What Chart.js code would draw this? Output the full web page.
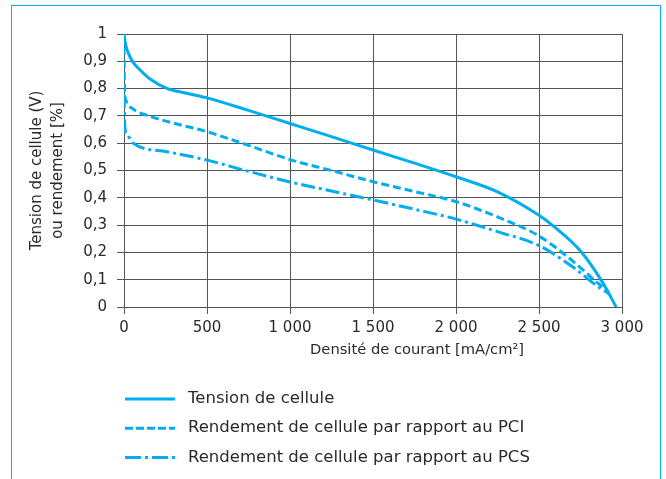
<!DOCTYPE html>
<html>
<head>
<meta charset="utf-8">
<script src="https://cdn.jsdelivr.net/npm/chart.js@4.4.1/dist/chart.umd.min.js"></script>
<style>
  body { margin: 0; background: #fff; }
  .frame { position: absolute; left: 11px; top: 5px; width: 648px; height: 520px; border: 1.5px solid #00aeef; }
  #chart { position: absolute; left: 0; top: 0; }
</style>
</head>
<body>
<div class="frame"></div>
<canvas id="chart" width="666" height="479"></canvas>
<script>
// courbes
const tensionX = [0, 10, 26, 56, 97, 157, 258, 370, 500, 750, 1000, 1250, 1500, 1750, 2000, 2250, 2500, 2600, 2750, 2880, 2965];
const tensionY = [1.0, 0.96, 0.93, 0.895, 0.868, 0.835, 0.801, 0.784, 0.766, 0.72, 0.672, 0.624, 0.575, 0.527, 0.477, 0.422, 0.336, 0.29, 0.205, 0.093, 0.0];

const pciX = [0, 3, 10, 56, 150, 258, 500, 750, 1000, 1250, 1500, 1750, 2000, 2250, 2500, 2700, 2850, 2920];
const pciY = [0.95, 0.8, 0.76, 0.725, 0.70, 0.68, 0.642, 0.592, 0.54, 0.50, 0.459, 0.423, 0.386, 0.33, 0.26, 0.17, 0.09, 0.055];

const pcsX = [0, 5, 16, 56, 258, 500, 750, 1000, 1250, 1500, 1750, 2000, 2250, 2500, 2700, 2870, 2920];
const pcsY = [0.78, 0.66, 0.636, 0.60, 0.569, 0.538, 0.497, 0.458, 0.425, 0.392, 0.358, 0.322, 0.276, 0.225, 0.148, 0.068, 0.05];

const seriesLabels = [
    'Tension de cellule',
    'Rendement de cellule par rapport au PCI',
    'Rendement de cellule par rapport au PCS'
];

const xTickLabels = ['0', '500', '1 000', '1 500', '2 000', '2 500', '3 000'];
const yTickLabels = ['0', '0,1', '0,2', '0,3', '0,4', '0,5', '0,6', '0,7', '0,8', '0,9', '1'];

const BLUE = '#00aeef';
const TXT = '#2a2a2a';
const GRID = '#555555';
const FONT = '"DejaVu Sans", sans-serif';

function pts(xs, ys) {
    return xs.map((x, i) => ({x: x, y: ys[i]}));
}

// legende verticale sous le graphe
const legendBelow = {
    id: 'legendBelow',
    afterDraw(chart) {
        const ctx = chart.ctx;
        ctx.save();
        chart.data.datasets.forEach((ds, i) => {
            const y = 399 + i * 29.2;
            ctx.strokeStyle = ds.borderColor;
            ctx.lineWidth = 3;
            ctx.setLineDash(ds.legendDash);
            ctx.beginPath();
            ctx.moveTo(125, y);
            ctx.lineTo(175, y);
            ctx.stroke();
            ctx.setLineDash([]);
            ctx.fillStyle = TXT;
            ctx.font = '16.5px ' + FONT;
            ctx.textBaseline = 'middle';
            ctx.fillText(ds.label, 188, y);
        });
        ctx.restore();
    }
};

const config = {
    type: 'line',
    data: {
        datasets: [
            {
                label: seriesLabels[0],
                data: pts(tensionX, tensionY),
                borderColor: BLUE,
                borderWidth: 3,
                legendDash: []
            },
            {
                label: seriesLabels[1],
                data: pts(pciX, pciY),
                borderColor: BLUE,
                borderWidth: 3,
                borderDash: [8, 4],
                legendDash: [8, 3]
            },
            {
                label: seriesLabels[2],
                data: pts(pcsX, pcsY),
                borderColor: BLUE,
                borderWidth: 3,
                borderDash: [14, 4, 3, 4],
                legendDash: [16, 4, 3, 4]
            }
        ]
    },
    options: {
        responsive: false,
        animation: false,
        layout: { padding: { top: 34, right: 44, bottom: 112, left: 0 } },
        elements: {
            point: { radius: 0 },
            line: { cubicInterpolationMode: 'monotone', borderCapStyle: 'butt' }
        },
        plugins: {
            legend: { display: false },
            tooltip: { enabled: false }
        },
        scales: {
            x: {
                type: 'linear',
                min: 0,
                max: 3000,
                afterFit: (s) => { s.height = 60; },
                border: { color: GRID, width: 1 },
                grid: { color: GRID, lineWidth: 1, tickLength: 7, tickColor: GRID },
                ticks: {
                    stepSize: 500,
                    padding: 5,
                    color: TXT,
                    font: { family: FONT, size: 15 },
                    callback: (v, i) => xTickLabels[i]
                },
                title: {
                    display: true,
                    text: '\u2003\u2003\u2003\u2003\u2003\u2003Densité de courant [mA/cm²]',
                    color: TXT,
                    font: { family: FONT, size: 14.7 },
                    padding: { top: 0, bottom: 8 }
                }
            },
            y: {
                min: 0,
                max: 1,
                afterFit: (s) => { s.width = 124; },
                border: { color: GRID, width: 1 },
                grid: { color: GRID, lineWidth: 1, tickLength: 7, tickColor: GRID },
                ticks: {
                    stepSize: 0.1,
                    padding: 10,
                    color: TXT,
                    font: { family: FONT, size: 15 },
                    callback: (v, i) => yTickLabels[i]
                },
                title: {
                    display: true,
                    text: ['Tension de cellule (V)', 'ou rendement [%]'],
                    color: TXT,
                    font: { family: FONT, size: 15, lineHeight: 1.42 },
                    padding: { top: 26, bottom: 0 }
                }
            }
        }
    },
    plugins: [legendBelow]
};

const myChart = new Chart(document.getElementById('chart'), config);
</script>
</body>
</html>
